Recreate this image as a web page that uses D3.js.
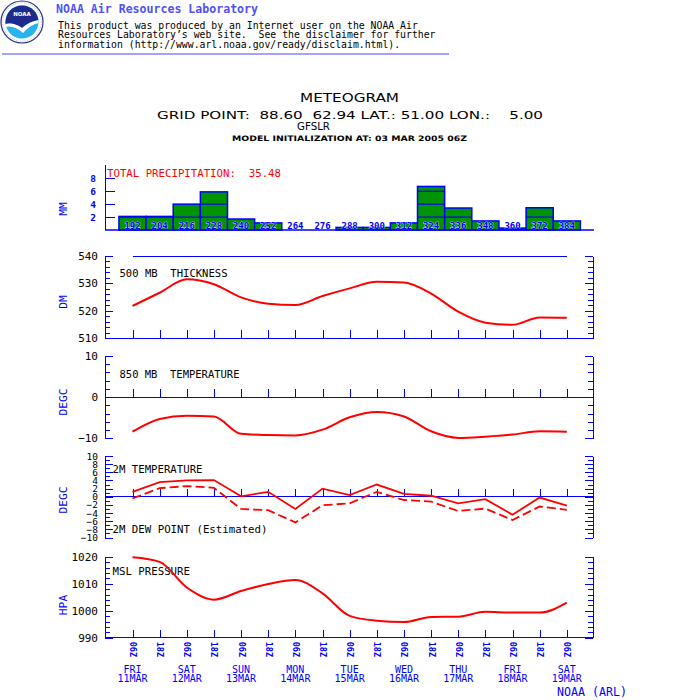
<!DOCTYPE html>
<html>
<head>
<meta charset="utf-8">
<script src="https://cdn.jsdelivr.net/npm/d3@7"></script>
<style>
  body { margin: 0; background: #fff; }
  svg { display: block; }
  svg text { white-space: pre; }
</style>
</head>
<body>
<div id="chart"></div>
<script>
// forecast hours from the 03 MAR 2005 06Z run
const hours = [192, 204, 216, 228, 240, 252, 264, 276, 288, 300, 312, 324, 336, 348, 360, 372, 384];
const hourLabels = ['06Z', '18Z', '06Z', '18Z', '06Z', '18Z', '06Z', '18Z', '06Z', '18Z', '06Z', '18Z', '06Z', '18Z', '06Z', '18Z', '06Z'];
const dayNames = ['FRI', 'SAT', 'SUN', 'MON', 'TUE', 'WED', 'THU', 'FRI', 'SAT'];
const dayDates = ['11MAR', '12MAR', '13MAR', '14MAR', '15MAR', '16MAR', '17MAR', '18MAR', '19MAR'];

const precip = [2.1, 2.1, 4.0, 5.9, 1.7, 1.1, 0, 0, 0.4, 0.4, 1.1, 6.74, 3.4, 1.4, 0.3, 3.44, 1.4];
const thickness = [521.8, 526.6, 531.5, 529.7, 524.9, 522.6, 522.1, 525.4, 528.2, 530.6, 530.3, 526.3, 519.7, 515.7, 514.9, 517.6, 517.5];
const temp850 = [-8.4, -5.3, -4.5, -4.7, -8.9, -9.2, -9.3, -7.9, -4.9, -3.6, -4.7, -8.3, -9.9, -9.6, -9.1, -8.3, -8.4];
const temp2m = [1.2, 3.6, 4.0, 4.1, 0.1, 1.2, -3.0, 2.0, 0.4, 3.0, 0.7, 0.25, -1.6, -0.6, -4.4, -0.2, -2.2];
const dew2m = [-0.4, 2.1, 2.6, 2.2, -3.0, -3.3, -6.3, -2.1, -1.6, 1.2, -0.8, -1.2, -3.5, -2.9, -5.7, -2.4, -3.2];
const mslp = [1019.8, 1018.1, 1008.6, 1004.1, 1007.3, 1009.9, 1011.4, 1006.4, 998.1, 996.3, 995.8, 997.7, 997.8, 999.6, 999.3, 999.3, 1003.0];

const precipTicks = [2, 4, 6, 8];
const thicknessTicks = [510, 520, 530, 540];
const temp850Ticks = [-10, 0, 10];
const temp2mTicks = [-10, -8, -6, -4, -2, 0, 2, 4, 6, 8, 10];
const mslpTicks = [990, 1000, 1010, 1020];

const disclaimer = [
  'This product was produced by an Internet user on the NOAA Air',
  'Resources Laboratory\u2019s web site.  See the disclaimer for further',
  'information (http://www.arl.noaa.gov/ready/disclaim.html).'
];

class Meteogram {

  constructor(_config) {
    this.config = {
      parentElement: _config.parentElement,
      containerWidth: _config.containerWidth || 700,
      containerHeight: _config.containerHeight || 700,
      left: 105,
      right: 593,
      blue: '#0000ff',
      red: '#ff0000',
      green: '#009400',
      mono: "'DejaVu Sans Mono', monospace"
    };
    this.initVis();
  }

  initVis() {
    let vis = this;
    const c = vis.config;

    vis.svg = d3.select(c.parentElement).append('svg')
        .attr('width', c.containerWidth)
        .attr('height', c.containerHeight)
        .style('font-family', c.mono);

    vis.xScale = d3.scaleLinear()
        .domain([hours[0], hours[hours.length - 1]])
        .range([132.5, 566.8]);

    vis.drawHeader();
    vis.drawTitle();
    vis.drawPrecip();

    // 500 mb thickness
    vis.yThick = d3.scaleLinear().domain([510, 540]).range([338.3, 256]);
    vis.drawFrame({y: vis.yThick, minorStep: 2, majorTicks: thicknessTicks, base: 510, name: 'DM', nameY: 302});
    vis.svg.append('line')
        .attr('x1', vis.xScale(hours[0])).attr('x2', vis.xScale(hours[hours.length - 1]))
        .attr('y1', vis.yThick(540)).attr('y2', vis.yThick(540))
        .attr('stroke', c.blue).attr('shape-rendering', 'crispEdges');
    vis.panelTitle('500 MB  THICKNESS', 119.5, 277, 108);
    vis.drawLine(thickness, vis.yThick, d3.curveMonotoneX, null, 2);

    // 850 mb temperature
    vis.y850 = d3.scaleLinear().domain([-10, 10]).range([438.3, 356]);
    vis.drawFrame({y: vis.y850, minorStep: 2, majorTicks: temp850Ticks, base: 0, name: 'DEGC', nameY: 402});
    vis.panelTitle('850 MB  TEMPERATURE', 119.5, 378, 120);
    vis.drawLine(temp850, vis.y850, d3.curveMonotoneX, null, 2);

    // 2 m temperature and dew point
    vis.y2m = d3.scaleLinear().domain([-10, 10]).range([537.5, 456]);
    vis.drawFrame({y: vis.y2m, minorStep: 1, majorTicks: temp2mTicks, base: 0, name: 'DEGC', nameY: 500, labelSize: 9.5});
    vis.panelTitle('2M TEMPERATURE', 112.5, 473, 90);
    vis.panelTitle('2M DEW POINT (Estimated)', 112.5, 533, 155);
    vis.drawLine(temp2m, vis.y2m, d3.curveLinear, null, 1.8);
    vis.drawLine(dew2m, vis.y2m, d3.curveLinear, '9,4', 1.8);

    // MSL pressure
    vis.yMsl = d3.scaleLinear().domain([990, 1020]).range([637.7, 556.7]);
    vis.drawFrame({y: vis.yMsl, minorStep: 2, majorTicks: mslpTicks, base: 990, name: 'HPA', nameY: 605, timeLabels: true});
    vis.panelTitle('MSL PRESSURE', 112.5, 575, 77.5);
    vis.drawLine(mslp, vis.yMsl, d3.curveMonotoneX, null, 2);

    vis.drawDays();
  }

  styleAxis(sel, textColor, fontSize) {
    let vis = this;
    sel.attr('font-family', vis.config.mono).attr('font-size', fontSize);
    sel.select('.domain').attr('stroke', vis.config.blue).attr('shape-rendering', 'crispEdges');
    sel.selectAll('.tick line').attr('stroke', vis.config.blue).attr('shape-rendering', 'crispEdges');
    sel.selectAll('.tick text').attr('fill', textColor);
  }

  drawFrame(p) {
    let vis = this;
    const c = vis.config;
    const dom = p.y.domain();
    const minor = d3.range(dom[0], dom[1] + 0.001, p.minorStep);

    const leftMinor = vis.svg.append('g')
        .attr('transform', `translate(${c.left},0)`)
        .call(d3.axisLeft(p.y).tickValues(minor).tickSizeInner(-5).tickSizeOuter(0).tickFormat(''));
    vis.styleAxis(leftMinor, '#000', 11);

    const leftMajor = vis.svg.append('g')
        .attr('transform', `translate(${c.left},0)`)
        .call(d3.axisLeft(p.y).tickValues(p.majorTicks).tickSizeInner(-8).tickSizeOuter(0).tickPadding(7).tickFormat(d3.format('d')));
    vis.styleAxis(leftMajor, '#000', p.labelSize || 11);

    const rightMinor = vis.svg.append('g')
        .attr('transform', `translate(${c.right},0)`)
        .call(d3.axisRight(p.y).tickValues(minor).tickSizeInner(-5).tickSizeOuter(0).tickFormat(''));
    vis.styleAxis(rightMinor, '#000', 11);

    const rightMajor = vis.svg.append('g')
        .attr('transform', `translate(${c.right},0)`)
        .call(d3.axisRight(p.y).tickValues(p.majorTicks).tickSizeInner(-8).tickSizeOuter(0).tickFormat(''));
    vis.styleAxis(rightMajor, '#000', 11);

    // time axis along the base value
    const xAxis = d3.axisBottom(vis.xScale).tickValues(hours).tickSizeInner(-8).tickSizeOuter(0)
        .tickFormat(p.timeLabels ? (d, i) => hourLabels[i] : '');
    const xg = vis.svg.append('g')
        .attr('transform', `translate(0,${p.y(p.base)})`)
        .call(xAxis);
    vis.styleAxis(xg, c.blue, 8.5);
    xg.select('.domain').remove();
    xg.append('line')
        .attr('x1', c.left).attr('x2', c.right)
        .attr('stroke', c.blue).attr('shape-rendering', 'crispEdges');
    if (p.timeLabels) {
      xg.selectAll('.tick text')
          .attr('transform', 'rotate(90)')
          .attr('x', 4).attr('y', 0).attr('dy', '0.35em')
          .attr('text-anchor', 'start')
          .attr('font-weight', 'bold');
    }

    vis.axisName(p.name, p.nameY);
  }

  axisName(label, cy) {
    let vis = this;
    vis.svg.append('text')
        .attr('transform', `translate(67,${cy}) rotate(-90)`)
        .attr('text-anchor', 'middle')
        .attr('fill', vis.config.blue)
        .attr('font-size', 11.3)
        .text(label);
  }

  panelTitle(label, x, y, len) {
    let vis = this;
    vis.svg.append('text')
        .attr('x', x).attr('y', y)
        .attr('font-size', 10.7)
        .attr('fill', '#000')
        .attr('textLength', len)
        .attr('lengthAdjust', 'spacingAndGlyphs')
        .text(label);
  }

  drawLine(values, y, curve, dash, width) {
    let vis = this;
    const line = d3.line()
        .x((d, i) => vis.xScale(hours[i]))
        .y(d => y(d))
        .curve(curve);
    vis.svg.append('path')
        .datum(values)
        .attr('d', line)
        .attr('fill', 'none')
        .attr('stroke', vis.config.red)
        .attr('stroke-width', width)
        .attr('stroke-dasharray', dash);
  }

  drawPrecip() {
    let vis = this;
    const c = vis.config;
    vis.yPrecip = d3.scaleLinear().domain([0, 8]).range([230, 178.3]);
    const bw = vis.xScale(hours[1]) - vis.xScale(hours[0]);

    // one group per forecast hour, shifted onto its tick
    const bars = vis.svg.append('g').selectAll('.bar')
        .data(precip)
      .enter().append('g')
        .attr('class', 'bar')
        .attr('transform', (d, i) => `translate(${vis.xScale(hours[i])},0)`);

    bars.filter(d => d > 0).append('rect')
        .attr('x', -bw / 2)
        .attr('y', d => vis.yPrecip(d))
        .attr('width', bw)
        .attr('height', d => vis.yPrecip(0) - vis.yPrecip(d))
        .attr('fill', c.green)
        .attr('stroke', c.blue)
        .attr('stroke-width', 1.5);

    // grid segments inside the taller bars
    bars.selectAll('.inner')
        .data(d => [2, 4, 6].filter(v => v < d - 0.05))
      .enter().append('line')
        .attr('class', 'inner')
        .attr('x1', -bw / 2)
        .attr('x2', bw / 2)
        .attr('y1', v => vis.yPrecip(v))
        .attr('y2', v => vis.yPrecip(v))
        .attr('stroke', c.blue)
        .attr('stroke-width', 1.2);

    bars.append('text')
        .attr('x', 0)
        .attr('y', 229)
        .attr('text-anchor', 'middle')
        .attr('font-size', 9)
        .attr('font-weight', 'bold')
        .attr('fill', c.blue)
        .attr('stroke', '#ffffff')
        .attr('stroke-width', 0.6)
        .attr('paint-order', 'stroke')
        .text((d, i) => hours[i]);

    const yAxis = vis.svg.append('g')
        .attr('transform', `translate(${c.left},0)`)
        .call(d3.axisLeft(vis.yPrecip).tickValues(precipTicks).tickSizeInner(-10).tickSizeOuter(0).tickPadding(9).tickFormat(d3.format('d')));
    vis.styleAxis(yAxis, c.blue, 9.5);
    yAxis.selectAll('.tick text').attr('font-weight', 'bold');
    yAxis.select('.domain').remove();
    vis.svg.append('line')
        .attr('x1', c.left).attr('x2', c.left)
        .attr('y1', 165).attr('y2', vis.yPrecip(0))
        .attr('stroke', c.blue).attr('shape-rendering', 'crispEdges');
    vis.svg.append('line')
        .attr('x1', c.left).attr('x2', c.right + 1)
        .attr('y1', vis.yPrecip(0)).attr('y2', vis.yPrecip(0))
        .attr('stroke', c.blue).attr('stroke-width', 1.5);

    vis.svg.append('text')
        .attr('x', 107).attr('y', 177)
        .attr('font-size', 10.7)
        .attr('fill', c.red)
        .attr('textLength', 174)
        .attr('lengthAdjust', 'spacingAndGlyphs')
        .text(`TOTAL PRECIPITATION:  ${d3.sum(precip).toFixed(2)}`);

    vis.axisName('MM', 209);
  }

  drawDays() {
    let vis = this;
    const c = vis.config;
    const g = vis.svg.append('g')
        .attr('fill', c.blue)
        .attr('font-size', 10)
        .attr('text-anchor', 'middle');
    g.selectAll('.dname')
        .data(dayNames)
      .enter().append('text')
        .attr('x', (d, i) => vis.xScale(hours[i * 2]))
        .attr('y', 673)
        .text(d => d);
    g.selectAll('.ddate')
        .data(dayDates)
      .enter().append('text')
        .attr('x', (d, i) => vis.xScale(hours[i * 2]))
        .attr('y', 682)
        .text(d => d);

    vis.svg.append('text')
        .attr('x', 557).attr('y', 696)
        .attr('font-size', 11.5)
        .attr('fill', c.blue)
        .attr('textLength', 70)
        .attr('lengthAdjust', 'spacingAndGlyphs')
        .text('NOAA (ARL)');
  }

  drawTitle() {
    let vis = this;
    const sans = "'DejaVu Sans', sans-serif";
    const t = (label, x, y, size, len, weight) => vis.svg.append('text')
        .attr('x', x).attr('y', y)
        .attr('font-family', sans)
        .attr('font-size', size)
        .attr('font-weight', weight || 'normal')
        .attr('fill', '#000')
        .attr('textLength', len)
        .attr('lengthAdjust', 'spacingAndGlyphs')
        .text(label);
    t('METEOGRAM', 300, 102, 13, 99);
    t('GRID POINT:  88.60  62.94 LAT.: 51.00 LON.:    5.00', 157, 119, 10, 386);
    t('GFSLR', 297, 130, 10, 33);
    t('MODEL INITIALIZATION AT: 03 MAR 2005 06Z', 232, 141, 7.5, 235, 'bold');
  }

  drawHeader() {
    let vis = this;
    const logo = vis.svg.append('g').attr('transform', 'translate(22,22)');
    logo.append('circle').attr('r', 21).attr('fill', '#fff').attr('stroke', '#22307e').attr('stroke-width', 1.2);
    logo.append('circle').attr('r', 19.3).attr('fill', 'none').attr('stroke', '#8890c0').attr('stroke-width', 0.6).attr('stroke-dasharray', '1,1.2');
    logo.append('clipPath').attr('id', 'logoClip').append('circle').attr('r', 16.5);
    const inner = logo.append('g').attr('clip-path', 'url(#logoClip)');
    inner.append('rect').attr('x', -17).attr('y', -17).attr('width', 34).attr('height', 34).attr('fill', '#27b4ea');
    inner.append('path')
        .attr('d', 'M-17,-17 H17 V-2 Q8,-1 0,6 Q-8,0 -17,2 Z')
        .attr('fill', '#1d2b8c');
    inner.append('path')
        .attr('d', 'M-17,2 Q-8,0 0,6 Q8,-1 17,-2 L17,1 Q9,2 1,11 Q-8,3 -17,5 Z')
        .attr('fill', '#fff');
    logo.append('text')
        .attr('y', -6)
        .attr('text-anchor', 'middle')
        .attr('font-family', "'DejaVu Sans', sans-serif")
        .attr('font-size', 5.5)
        .attr('font-weight', 'bold')
        .attr('fill', '#fff')
        .text('NOAA');

    vis.svg.append('text')
        .attr('x', 56).attr('y', 13)
        .attr('font-size', 12)
        .attr('font-weight', 'bold')
        .attr('fill', '#5050f8')
        .attr('textLength', 202)
        .attr('lengthAdjust', 'spacingAndGlyphs')
        .text('NOAA Air Resources Laboratory');

    vis.svg.append('g').selectAll('text')
        .data(disclaimer)
      .enter().append('text')
        .attr('x', 58)
        .attr('y', (d, i) => 28.5 + i * 9.7)
        .attr('font-size', 9.8)
        .attr('fill', '#000')
        .text(d => d);

    vis.svg.append('line')
        .attr('x1', 2).attr('x2', 449)
        .attr('y1', 54).attr('y2', 54)
        .attr('stroke', '#4848ff')
        .attr('stroke-width', 1);
  }
}

new Meteogram({parentElement: '#chart'});
</script>
</body>
</html>
